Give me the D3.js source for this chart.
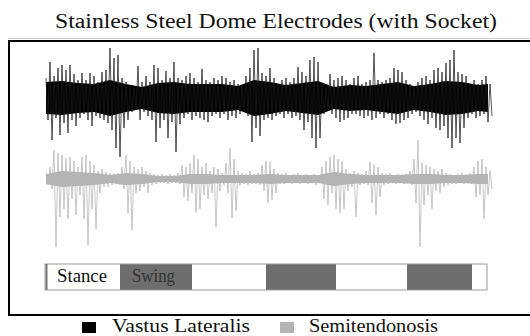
<!DOCTYPE html>
<html>
<head>
<meta charset="utf-8">
<script src="https://cdn.jsdelivr.net/npm/d3@7"></script>
<style>
  html, body { margin: 0; padding: 0; background: #fff; }
  svg { display: block; }
</style>
</head>
<body>
<div id="chart"></div>
<script>
// EMG peaks per 0.04 s bin (amplitude, arbitrary units)
const binStart = 0.01, binStep = 0.04;
const vlUp = [20,36,22,30,33,28,33,24,18,25,18,25,22,16,26,28,50,40,43,20,16,12,10,32,16,22,16,33,30,18,
  27,20,36,20,18,22,25,20,16,29,18,16,20,18,22,20,16,18,14,12,22,30,48,50,25,22,30,20,14,18,
  20,16,20,31,26,22,38,41,36,14,10,24,18,20,22,18,14,20,22,14,16,18,45,18,16,18,20,30,28,26,
  18,14,12,16,20,22,18,28,30,26,35,38,48,26,24,22,14,18,14,18,22,14];
const vlDown = [22,42,20,37,25,35,22,28,20,16,22,28,18,20,22,25,32,50,59,30,22,14,12,22,14,18,22,44,30,22,
  40,24,54,26,20,16,22,18,20,22,24,18,16,20,16,22,18,20,16,14,18,44,30,38,22,20,22,18,16,20,
  16,20,18,22,32,24,40,50,40,16,12,16,20,24,22,20,16,16,18,20,18,22,20,16,20,16,22,26,25,22,
  20,16,14,18,22,26,20,30,32,28,40,50,40,45,30,20,16,20,18,16,24,18];
const stUp = [6,12,29,26,24,21,22,18,12,22,24,18,14,8,10,7,6,5,6,12,24,18,12,10,12,8,6,5,4,5,
  4,5,4,6,14,12,16,24,20,12,16,8,12,10,6,16,31,20,8,6,5,8,5,6,14,18,17,10,6,5,
  6,4,5,6,4,5,4,5,4,12,18,22,24,20,18,10,6,8,6,5,8,17,14,12,6,5,6,4,5,4,
  5,8,20,39,16,14,12,10,8,10,6,5,4,5,6,5,6,12,18,20,12,8];
const stDown = [6,10,68,38,30,40,20,36,16,40,66,30,50,14,8,8,6,5,6,10,34,51,14,12,8,14,6,5,4,4,
  5,4,4,5,18,22,14,33,30,16,20,14,48,12,6,14,39,32,6,5,6,5,5,6,12,24,21,14,5,5,
  4,5,4,5,4,5,4,6,4,20,26,14,30,34,30,12,8,38,6,5,6,24,36,18,6,5,4,5,4,5,
  4,6,24,68,26,16,30,12,14,8,6,5,5,4,5,4,5,18,16,40,16,10];
// dense core half-width per 0.16 s
const coreStep = 0.16;
const vlCore = [16,17,15,14,18,14,11,15,16,14,14,14,12,18,16,13,15,17,11,13,12,14,16,12,14,17,16,13,14];
const stCore = [5,8,7,6,4,6,5,3,3,5,5,4,4,4,5,4,4,4,7,5,4,4,4,5,5,4,4,5,5];

// gait cycle phase boundaries (s)
const phaseEdges = [0, 0.75, 1.47, 2.21, 2.91, 3.62, 4.27, 4.42];
const phaseNames = ["Stance", "Swing"];

const title = "Stainless Steel Dome Electrodes (with Socket)";
const series = [
  { name: "Vastus Lateralis", up: vlUp, down: vlDown, core: vlCore, color: "#000", spike: "#1a1a1a", center: 98 },
  { name: "Semitendonosis", up: stUp, down: stDown, core: stCore, color: "#b4b4b4", spike: "#b4b4b4", center: 179 }
];

const W = 530, H = 336;
const FONT = "Liberation Serif";
const svg = d3.select("#chart").append("svg").attr("width", W).attr("height", H);

const x = d3.scaleLinear().domain([0, 4.45]).range([45, 490]);

// title
svg.append("text")
  .attr("x", 55).attr("y", 28)
  .attr("font-family", FONT).attr("font-size", 20)
  .attr("textLength", 442).attr("lengthAdjust", "spacingAndGlyphs")
  .attr("fill", "#111")
  .text(title);

// frame
svg.append("line").attr("x1", 8).attr("x2", W).attr("y1", 38.5).attr("y2", 38.5)
  .attr("stroke", "#ccc").attr("stroke-width", 1);
svg.append("rect")
  .attr("x", 9).attr("y", 41).attr("width", W + 10).attr("height", 274)
  .attr("fill", "none").attr("stroke", "#000").attr("stroke-width", 2);

// EMG traces
series.forEach(s => {
  const y = d3.scaleLinear().domain([-60, 60]).range([s.center + 60, s.center - 60]);
  const core = s.core.map((c, k) => ({ t: Math.min(binStart + k * coreStep, 4.43), c }));
  svg.append("path")
    .datum(core)
    .attr("fill", s.color)
    .attr("d", d3.area().x(d => x(d.t)).y0(d => y(-d.c)).y1(d => y(d.c)));

  const pts = [];
  s.up.forEach((u, i) => {
    const t = binStart + i * binStep;
    pts.push([t, u]);
    pts.push([t + binStep / 2, -s.down[i]]);
  });
  svg.append("path")
    .datum(pts)
    .attr("fill", "none")
    .attr("stroke", s.spike)
    .attr("stroke-width", 0.75)
    .attr("stroke-linejoin", "bevel")
    .attr("d", d3.line().x(d => x(d[0])).y(d => y(d[1])));
});

// gait phase bar
const barTop = 264, barH = 26;
svg.selectAll("rect.phase")
  .data(d3.pairs(phaseEdges))
  .enter().append("rect")
  .attr("class", "phase")
  .attr("x", d => x(d[0])).attr("y", barTop)
  .attr("width", d => x(d[1]) - x(d[0])).attr("height", barH)
  .attr("fill", (d, i) => i % 2 ? "#6e6e6e" : "#fff");
svg.append("rect")
  .attr("x", x(phaseEdges[0])).attr("y", barTop)
  .attr("width", x(phaseEdges[phaseEdges.length - 1]) - x(phaseEdges[0])).attr("height", barH)
  .attr("fill", "none").attr("stroke", "#999").attr("stroke-width", 1);
svg.append("line")
  .attr("x1", x(0) + 1.5).attr("x2", x(0) + 1.5).attr("y1", barTop).attr("y2", barTop + barH)
  .attr("stroke", "#777").attr("stroke-width", 2);
svg.append("text").attr("x", 57).attr("y", 282)
  .attr("font-family", FONT).attr("font-size", 18)
  .attr("textLength", 50).attr("lengthAdjust", "spacingAndGlyphs")
  .attr("fill", "#111").text(phaseNames[0]);
svg.append("text").attr("x", 132).attr("y", 282)
  .attr("font-family", FONT).attr("font-size", 18)
  .attr("textLength", 43).attr("lengthAdjust", "spacingAndGlyphs")
  .attr("fill", "#333").text(phaseNames[1]);

// legend
const legend = [
  { sx: 82, tx: 112, len: 138 },
  { sx: 280, tx: 309, len: 129 }
];
legend.forEach((l, i) => {
  svg.append("rect").attr("x", l.sx).attr("y", 322).attr("width", 14).attr("height", 11)
    .attr("fill", series[i].color);
  svg.append("text").attr("x", l.tx).attr("y", 332)
    .attr("font-family", FONT).attr("font-size", 18)
    .attr("textLength", l.len).attr("lengthAdjust", "spacingAndGlyphs")
    .attr("fill", "#111").text(series[i].name);
});
</script>
</body>
</html>
